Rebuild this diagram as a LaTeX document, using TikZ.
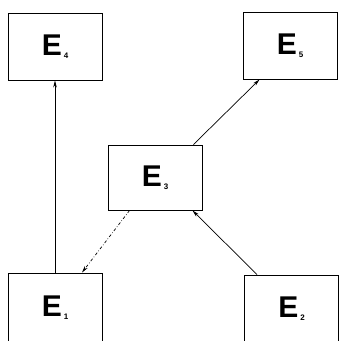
\documentclass[tikz,border=0pt]{standalone}
\usepackage{fontspec}
\setmainfont{Liberation Sans}
\usetikzlibrary{arrows.meta,calc}
\tikzset{
  ebox/.style={draw,line width=0.9pt,minimum width=94pt,minimum height=67pt,inner sep=0pt},
  conn/.style={line width=0.7pt,-{Stealth[length=7pt,width=3.5pt]}},
  dconn/.style={conn,dash pattern=on 3pt off 2pt on 0.6pt off 2pt}
}
\newcommand{\elab}[1]{\fontsize{30}{30}\selectfont\bfseries E\kern2pt\raisebox{-3pt}{\fontsize{8}{8}\selectfont #1}}
\begin{document}
\begin{tikzpicture}[x=1pt,y=-1pt]
\useasboundingbox (0,0) rectangle (339,341);
\node[ebox] (E4) at (55,46.5) {\elab{4}};
\node[ebox] (E5) at (290,45.5) {\elab{5}};
\node[ebox,minimum height=65pt] (E3) at (155,177.5) {\elab{3}};
\node[ebox,minimum height=70pt] (E1) at (55,308) {\elab{1}};
\node[ebox,minimum height=68pt] (E2) at (291.5,309) {\elab{2}};
\draw[conn] (E1.north) -- (E4.south);
\draw[conn] ($(E3.north east)+(-9,0)$) -- ($(E5.south west)+(17,0)$);
\draw[conn] ($(E2.north west)+(13,0)$) -- ($(E3.south east)+(-10,0)$);
\draw[dconn] ($(E3.south west)+(22,0)$) -- ($(E1.north)+(27,0)$);
\end{tikzpicture}
\end{document}
